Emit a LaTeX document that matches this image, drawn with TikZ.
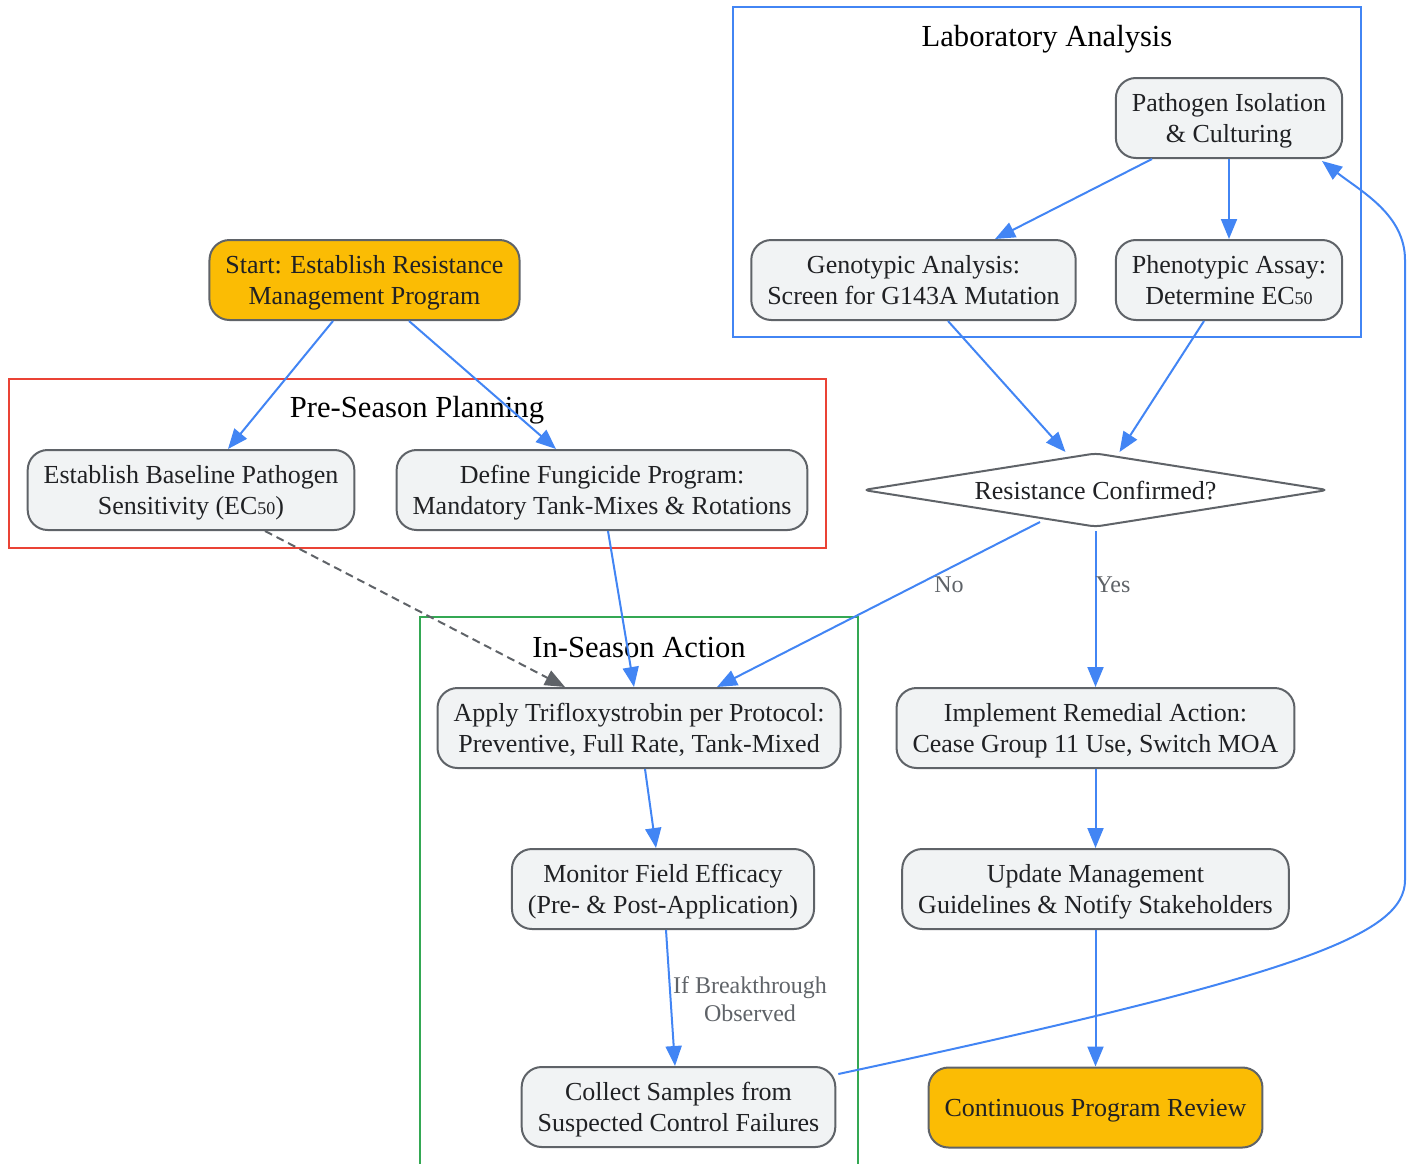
\documentclass[tikz,border=0pt]{standalone}
\usepackage{fontspec}
\setmainfont{Liberation Serif}
\usepackage{tikz}
\tikzset{>=latex}
\usetikzlibrary{arrows.meta}
\usetikzlibrary{shapes}
\usetikzlibrary{calc}
\definecolor{flowblue}{HTML}{4285F4}
\definecolor{planred}{HTML}{EA4335}
\definecolor{actiongreen}{HTML}{34A853}
\definecolor{startgold}{HTML}{FBBC04}
\definecolor{boxfill}{HTML}{F1F3F4}
\definecolor{boxline}{HTML}{5F6368}
\definecolor{inktext}{HTML}{202124}
\newcommand{\ecfifty}{EC{\fontsize{9}{9}\selectfont 50}}

\begin{document}
\begin{tikzpicture}[x=0.5pt, y=-0.5pt]
            \tikzset{box/.style={draw=boxline, line width=1pt, fill=boxfill, rounded corners=10pt, align=center, text=inktext, font=\fontsize{13}{15.5}\selectfont, inner xsep=8pt, minimum height=40pt, text depth=0pt}}
            \tikzset{terminal/.style={box, fill=startgold}}
            \tikzset{decision/.style={draw=boxline, line width=1pt, fill=white, diamond, aspect=6.3, inner sep=0pt, minimum width=232.5pt, minimum height=37pt, rounded corners=3pt, text=inktext, font=\fontsize{13}{15.5}\selectfont, text depth=0pt}}
            \tikzset{flow/.style={flowblue, line width=1pt, -{Triangle[length=10pt, width=8pt]}}}
            \tikzset{hint flow/.style={boxline, line width=1pt, dash pattern=on 4pt off 2.5pt, -{Triangle[length=10pt, width=8pt]}}}
            \tikzset{cluster/.style={line width=1pt}}
            \tikzset{cluster title/.style={font=\fontsize{15.3}{18}\selectfont, text=black}}
            \tikzset{flow label/.style={text=boxline, font=\fontsize{12}{14}\selectfont, align=center}}
            \useasboundingbox (0, 0) rectangle (1414, 1163);

            % clusters
            \draw[cluster, planred] (9, 379) rectangle (826, 548);
            \draw[cluster, flowblue] (733, 7) rectangle (1361, 337);
            \draw[cluster, actiongreen] (420, 617) rectangle (858, 1180);
            \node[cluster title] (planning) at (417, 410) {Pre-Season Planning};
            \node[cluster title] (lab) at (1047, 39) {Laboratory Analysis};
            \node[cluster title] (season) at (639, 648) {In-Season Action};

            % steps
            \node[terminal] (start) at (364.5, 280) {Start: Establish Resistance\\Management Program};
            \node[box] (baseline) at (191, 490) {Establish Baseline Pathogen\\Sensitivity (\ecfifty)};
            \node[box] (define) at (602, 490) {Define Fungicide Program:\\Mandatory Tank-Mixes \& Rotations};
            \node[box] (isolation) at (1229, 118) {Pathogen Isolation\\\& Culturing};
            \node[box] (genotype) at (913.5, 280) {Genotypic Analysis:\\Screen for G143A Mutation};
            \node[box] (phenotype) at (1229, 280) {Phenotypic Assay:\\Determine \ecfifty};
            \node[decision] (confirmed) at (1095.5, 490) {Resistance Confirmed?};
            \node[box] (apply) at (639, 728) {Apply Trifloxystrobin per Protocol:\\Preventive, Full Rate, Tank-Mixed};
            \node[box] (monitor) at (663, 889) {Monitor Field Efficacy\\(Pre- \& Post-Application)};
            \node[box] (collect) at (678.5, 1107) {Collect Samples from\\Suspected Control Failures};
            \node[box] (remedial) at (1095.5, 728) {Implement Remedial Action:\\Cease Group 11 Use, Switch MOA};
            \node[box] (update) at (1095.5, 889) {Update Management\\Guidelines \& Notify Stakeholders};
            \node[terminal] (review) at (1095.5, 1107.5) {Continuous Program Review};

            % connectors
            \draw[flow] ($(start.south)+(-31.5, 0)$) -- ($(baseline.north)+(37, 0)$);
            \draw[flow] ($(start.south)+(44.5, 0)$) -- ($(define.north)+(-46, 0)$);
            \draw[flow] ($(isolation.south)+(-77, 0)$) -- ($(genotype.north)+(81.5, 0)$);
            \draw[flow] (isolation.south) -- (phenotype.north);
            \draw[flow] ($(genotype.south)+(34.5, 0)$) -- ($(confirmed.north)+(-30, 0)$);
            \draw[flow] ($(phenotype.south)+(-25, 0)$) -- ($(confirmed.north)+(24, 0)$);
            \draw[flow] ($(confirmed.south)+(-55.5, -6)$) -- ($(apply.north)+(78, 0)$);
            \draw[flow] ($(confirmed.south)+(0, 3)$) -- (remedial.north);
            \node[flow label] (no) at (949, 585) {No};
            \node[flow label] (yes) at (1113, 585) {Yes};
            \draw[flow] ($(define.south)+(6, 0)$) -- ($(apply.north)+(-5, 0)$);
            \draw[hint flow] ($(baseline.south)+(74, 0)$) -- ($(apply.north)+(-74, 0)$);
            \draw[flow] ($(apply.south)+(6, 0)$) -- ($(monitor.north)+(-7, 0)$);
            \draw[flow] ($(monitor.south)+(3, 0)$) -- ($(collect.north)+(-3.5, 0)$);
            \node[flow label] (breakthrough) at (750, 999) {If Breakthrough\\Observed};
            \draw[flow] (remedial.south) -- (update.north);
            \draw[flow] (update.south) -- (review.north);
            \draw[flow] ($(collect.north east)+(2, 8)$) .. controls (1300, 975) and (1405, 935) .. (1405, 880)
                -- (1405, 260) .. controls (1405, 215) and (1362, 192) .. ($(isolation.south)+(93, 2)$);
        \end{tikzpicture}
\end{document}
